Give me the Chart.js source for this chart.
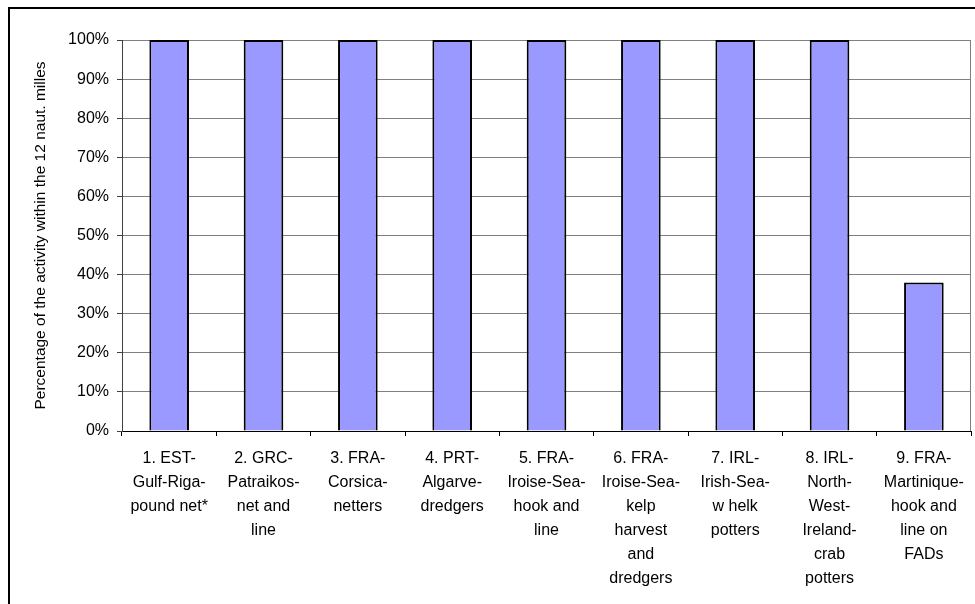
<!DOCTYPE html>
<html>
<head>
<meta charset="utf-8">
<script src="https://cdn.jsdelivr.net/npm/chart.js@4"></script>
<style>
  html, body { margin: 0; padding: 0; background: #fff; }
  #wrap { width: 975px; height: 604px; position: relative; }
</style>
</head>
<body>
<div id="wrap"><canvas id="c" width="975" height="604"></canvas></div>
<script>
const categories = [
  ["1. EST-", "Gulf-Riga-", "pound net*"],
  ["2. GRC-", "Patraikos-", "net and", "line"],
  ["3. FRA-", "Corsica-", "netters"],
  ["4. PRT-", "Algarve-", "dredgers"],
  ["5. FRA-", "Iroise-Sea-", "hook and", "line"],
  ["6. FRA-", "Iroise-Sea-", "kelp", "harvest", "and", "dredgers"],
  ["7. IRL-", "Irish-Sea-", "w helk", "potters"],
  ["8. IRL-", "North-", "West-", "Ireland-", "crab", "potters"],
  ["9. FRA-", "Martinique-", "hook and", "line on", "FADs"]
];
const shareWithin12nm = [100, 100, 100, 100, 100, 100, 100, 100, 38];
const yTickValues = [0, 10, 20, 30, 40, 50, 60, 70, 80, 90, 100];
const yAxisTitle = "Percentage of the activity within the 12 naut. milles";

const framePlugin = {
  id: 'frame',
  beforeDatasetsDraw(chart) {
    const {ctx, chartArea: a} = chart;
    ctx.save();
    ctx.strokeStyle = '#808080';
    ctx.lineWidth = 1;
    ctx.beginPath();
    ctx.moveTo(Math.round(a.right) - 0.5, a.top);
    ctx.lineTo(Math.round(a.right) - 0.5, a.bottom);
    ctx.stroke();
    ctx.restore();
  },
  afterDraw(chart) {
    const {ctx} = chart;
    ctx.save();
    ctx.strokeStyle = '#000';
    ctx.lineWidth = 2;
    ctx.beginPath();
    ctx.moveTo(9, 604);
    ctx.lineTo(9, 8);
    ctx.lineTo(975, 8);
    ctx.stroke();
    ctx.restore();
  }
};

Chart.defaults.font.family = '"Liberation Sans", Arial, sans-serif';
Chart.defaults.color = '#000';

new Chart(document.getElementById('c'), {
  type: 'bar',
  data: {
    labels: categories,
    datasets: [{
      data: shareWithin12nm,
      backgroundColor: '#9999FF',
      borderColor: '#000',
      borderWidth: 2,
      categoryPercentage: 1.0,
      barPercentage: 0.42
    }]
  },
  options: {
    responsive: false,
    animation: false,
    devicePixelRatio: 1,
    layout: { padding: { top: 40, right: 2, left: 0, bottom: 0 } },
    plugins: { legend: { display: false }, tooltip: { enabled: false } },
    scales: {
      x: {
        offset: true,
        grid: { display: true, drawOnChartArea: false, drawTicks: true, tickLength: 5, color: '#000', offset: true },
        border: { display: true, color: '#000', width: 1 },
        ticks: { maxRotation: 0, minRotation: 0, autoSkip: false, padding: 11, font: { size: 16, lineHeight: 1.5 } },
        afterFit(scale) { scale.height = 173; }
      },
      y: {
        min: 0, max: 100,
        afterBuildTicks(scale) { scale.ticks = yTickValues.map(v => ({ value: v })); },
        grid: { color: '#808080', tickColor: '#404040', tickLength: 5, lineWidth: 1 },
        border: { display: true, color: '#404040', width: 1 },
        ticks: { padding: 8, font: { size: 16 }, callback: v => v + '%' },
        title: { display: true, text: yAxisTitle, font: { size: 15.5 }, padding: { top: 31, bottom: 0 } },
        afterFit(scale) { scale.width = 122; }
      }
    }
  },
  plugins: [framePlugin]
});
</script>
</body>
</html>
